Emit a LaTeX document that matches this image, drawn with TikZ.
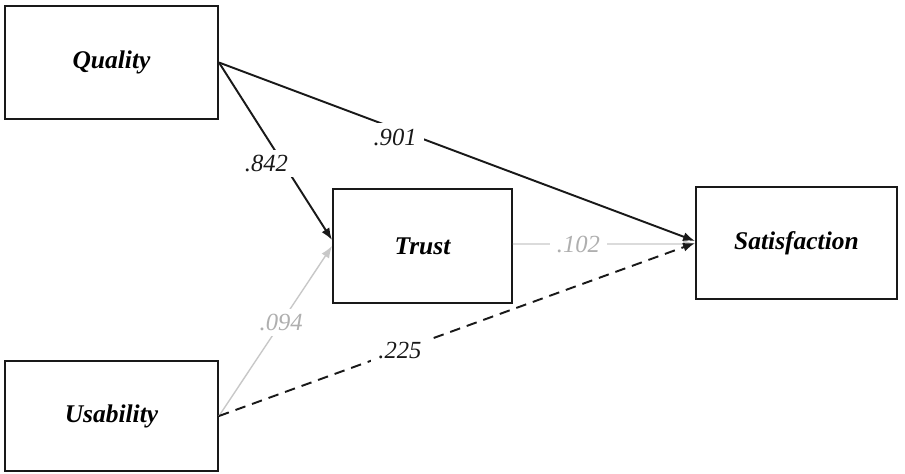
\documentclass[tikz,border=0pt]{standalone}
\usepackage{fontspec}
\setmainfont{Liberation Serif}
\usetikzlibrary{arrows.meta,positioning}
\definecolor{PathGray}{RGB}{200,200,200}
\definecolor{LabelGray}{RGB}{175,175,175}
\tikzset{
  construct/.style={draw=black!90,line width=1.1pt,fill=white,
    font=\fontsize{14.5}{17}\selectfont\bfseries\itshape,align=center},
  causal/.style={-{Latex[length=2.4mm,width=1.8mm]},line width=1.1pt,black!90},
  weak/.style={-{Latex[length=2.4mm,width=1.8mm]},line width=0.8pt,PathGray},
  coef/.style={fill=white,inner xsep=4pt,inner ysep=3pt,
    font=\fontsize{14}{16}\selectfont\itshape}
}

\begin{document}
\begin{tikzpicture}

\useasboundingbox (0,0) rectangle (18.1,-9.46);

\node[
  construct,
  minimum width=4.26cm,
  minimum height=2.26cm
] (quality) at (2.23,-1.25) {Quality};

\node[
  construct,
  minimum width=3.58cm,
  minimum height=2.28cm
] (trust) at (8.45,-4.92) {Trust};

\node[
  construct,
  minimum width=4.02cm,
  minimum height=2.24cm
] (satisfaction) at (15.93,-4.86) {Satisfaction};

\node[
  construct,
  minimum width=4.26cm,
  minimum height=2.2cm
] (usability) at (2.23,-8.32) {Usability};

\draw[weak]
(usability.east) -- node[coef,pos=0.55,text=LabelGray] {.094} (trust.west);

\draw[weak]
([yshift=0.04cm]trust.east) -- node[coef,pos=0.36,text=LabelGray] {.102}
([yshift=-0.02cm]satisfaction.west);

\draw[causal,dash pattern=on 6pt off 4pt]
(usability.east) -- node[coef,pos=0.38] {.225} (satisfaction.west);

\draw[causal]
(quality.east) -- node[coef,pos=0.57,xshift=-0.34cm] {.842}
([yshift=0.12cm]trust.west);

\draw[causal]
(quality.east) -- node[coef,pos=0.37,yshift=-0.17cm] {.901}
([yshift=0.04cm]satisfaction.west);

\end{tikzpicture}
\end{document}
